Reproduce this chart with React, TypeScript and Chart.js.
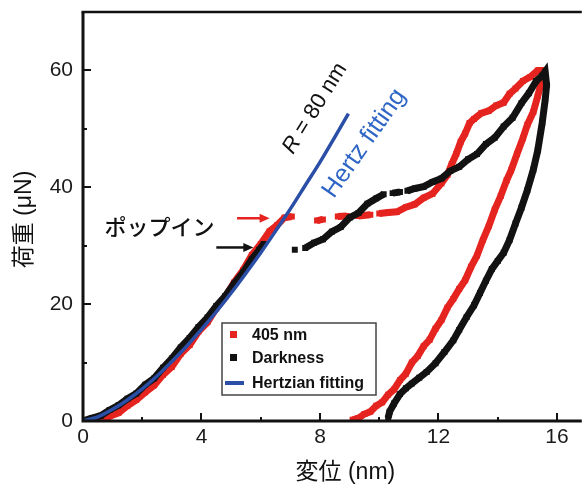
import React, { useEffect, useRef } from "react";
import { Chart, registerables } from "chart.js";

Chart.register(...registerables);

// ---- data ----
const red405X: (number)[] = [
  0.6, 0.9, 1.2, 1.5, 1.8, 2.1, 2.4, 2.7, 3.0, 3.3, 3.6, 3.9, 4.2, 4.5, 4.8, 5.1, 5.4, 5.7, 6.0, 6.3, 6.55, 6.8, 7.05, 7.05,
  7.9, 8.1, 8.1, 8.6, 8.9, 8.9, 9.3, 9.7, 9.7,
  10.0, 10.3, 10.6, 10.9, 11.2, 11.5, 11.8, 12.1, 12.3, 12.45, 12.6, 12.75, 12.9, 13.05, 13.2, 13.45, 13.7, 13.95, 14.2, 14.4, 14.6, 14.85, 15.1, 15.35, 15.55,
  15.5, 15.35, 15.2, 15.0, 14.85, 14.65, 14.45, 14.3, 14.1, 13.9, 13.7, 13.5, 13.3, 13.1, 12.9, 12.7, 12.5, 12.3, 12.1, 11.9, 11.7, 11.5, 11.3, 11.1, 10.9, 10.7, 10.5, 10.3, 10.1, 9.9, 9.7, 9.5, 9.3, 9.1,
];
const red405Y: (number | null)[] = [
  0.0, 0.8, 1.4, 2.6, 3.6, 4.9, 6.1, 7.9, 9.3, 11.5, 13.0, 15.3, 16.9, 19.3, 21.2, 23.7, 25.8, 28.4, 30.3, 32.5, 33.5, 34.8, 35.0, null,
  34.3, 34.5, null, 35.0, 35.1, null, 35.1, 35.3, null,
  35.5, 35.7, 35.8, 36.6, 37.1, 38.2, 38.9, 40.7, 42.1, 44.0, 45.7, 47.8, 49.2, 51.0, 51.7, 52.7, 53.1, 54.0, 54.5, 56.0, 56.9, 58.2, 58.9, 60.0, 60.0,
  58.5, 55.6, 52.9, 50.7, 48.4, 45.7, 42.9, 41.2, 38.5, 36.2, 33.4, 31.0, 28.3, 26.4, 24.1, 22.6, 20.9, 19.4, 17.3, 15.8, 13.9, 12.8, 11.1, 10.0, 8.1, 7.0, 5.4, 4.5, 3.2, 2.6, 1.6, 1.2, 0.5, 0.2,
];

const darkX: number[] = [
  0, 0.3, 0.6, 0.9, 1.2, 1.5, 1.8, 2.1, 2.4, 2.7, 3.0, 3.3, 3.6, 3.9, 4.2, 4.5, 4.8, 5.1, 5.4, 5.7, 5.95, 6.1, 6.1,
  7.15, 7.15,
  7.5, 7.8, 8.1, 8.4, 8.7, 9.0, 9.3, 9.6, 9.9, 10.15, 10.15,
  10.45, 10.7, 10.7,
  10.95, 11.2, 11.5, 11.8, 12.1, 12.4, 12.7, 13.0, 13.3, 13.6, 13.9, 14.2, 14.5, 14.8, 15.05, 15.3, 15.5, 15.6,
  15.65, 15.6, 15.5, 15.35, 15.2, 15.0, 14.8, 14.6, 14.4, 14.2, 14.0, 13.8, 13.6, 13.4, 13.2, 12.95, 12.7, 12.5, 12.2, 11.9, 11.6, 11.35, 11.1, 10.9, 10.7, 10.5, 10.35, 10.3,
];
const darkY: (number | null)[] = [
  0, 0.5, 0.9, 1.9, 2.7, 3.8, 4.7, 6.2, 7.3, 9.1, 10.7, 12.6, 14.2, 16.1, 17.7, 19.7, 21.4, 23.5, 25.4, 27.7, 29.3, 30.3, null,
  29.3, null,
  29.6, 30.5, 31.1, 32.4, 33.2, 34.8, 35.6, 37.2, 38.1, 38.8, null,
  39.0, 39.2, null,
  39.4, 39.8, 40.1, 40.9, 41.5, 42.8, 43.5, 44.8, 45.7, 47.4, 48.5, 50.4, 51.9, 54.4, 56.1, 58.2, 59.1, 59.8,
  57.5, 54.9, 51.0, 46.3, 43.0, 39.5, 36.5, 33.8, 31.0, 28.8, 27.4, 26.0, 24.0, 21.9, 19.8, 17.8, 15.6, 13.8, 11.8, 9.9, 8.4, 7.4, 6.4, 5.6, 4.6, 3.0, 1.6, 0.5,
];

const hertzX: number[] = [0, 0.5, 1, 1.5, 2, 2.5, 3, 3.5, 4, 4.5, 5, 5.5, 6, 6.5, 7, 7.5, 8, 8.5, 8.96];
const hertzY: number[] = [0, 0.7, 2.0, 3.6, 5.5, 7.7, 10.2, 12.8, 15.7, 18.7, 21.9, 25.3, 28.8, 32.5, 36.3, 40.3, 44.3, 48.6, 52.6];

const seriesLabels = ["Hertzian fitting", "Darkness", "405 nm"];
const xTicks = [0, 4, 8, 12, 16];
const yTicks = [0, 20, 40, 60];
const xTitle = "変位 (nm)";
const yTitle = "荷重 (μN)";
const popInLabel = "ポップイン";
const radiusLabel = ["R", " = 80 nm"];
const fitLabel = "Hertz fitting";
// arrows: [xStart, xEnd, y]
const redArrow = [5.2, 6.3, 34.7];
const blackArrow = [4.5, 5.75, 29.7];

const RED = "#e52420";
const BLACK = "#121212";
const BLUE = "#2b4fa6";
const BLUE_TEXT = "#2f66c6";
const SANS = "'Liberation Sans', Arial, sans-serif";
const CJK = "'Liberation Sans', 'Noto Sans CJK JP', sans-serif";

const pts = (xs: number[], ys: (number | null)[]) => xs.map((x, i) => ({ x, y: ys[i] }));

const overlay = {
  id: "overlay",
  afterDraw(chart: any) {
    const { ctx, chartArea: ca, scales } = chart;
    const xs = scales.x;
    const ys = scales.y;
    ctx.save();
    ctx.strokeStyle = BLACK;
    ctx.lineCap = "butt";
    // frame
    ctx.lineWidth = 3;
    ctx.beginPath();
    ctx.moveTo(ca.left, ca.top);
    ctx.lineTo(ca.left, ca.bottom);
    ctx.lineTo(ca.right + 2, ca.bottom);
    ctx.stroke();
    ctx.lineWidth = 2.5;
    ctx.beginPath();
    ctx.moveTo(ca.left - 1.5, ca.top);
    ctx.lineTo(ca.right + 2, ca.top);
    ctx.stroke();
    // inward ticks
    ctx.lineWidth = 2;
    for (let v = 0; v <= 70; v += 10) {
      const py = Math.round(ys.getPixelForValue(v));
      const len = v % 20 === 0 ? 8 : 4;
      ctx.beginPath();
      ctx.moveTo(ca.left, py);
      ctx.lineTo(ca.left + len, py);
      ctx.stroke();
    }
    for (let v = 0; v <= 16; v += 2) {
      const px = Math.round(xs.getPixelForValue(v));
      const len = v % 4 === 0 ? 8 : 4;
      ctx.beginPath();
      ctx.moveTo(px, ca.bottom);
      ctx.lineTo(px, ca.bottom - len);
      ctx.stroke();
    }
    // axis titles
    ctx.fillStyle = "#111";
    ctx.textAlign = "center";
    ctx.textBaseline = "middle";
    ctx.font = `23px ${CJK}`;
    ctx.fillText(xTitle, (ca.left + ca.right) / 2 + 14, 473);
    ctx.save();
    ctx.translate(25, (ca.top + ca.bottom) / 2 + 3);
    ctx.rotate(-Math.PI / 2);
    ctx.fillText(yTitle, 0, 0);
    ctx.restore();

    // legend box
    const lx = 222, ly = 323, lw = 154, lh = 72;
    ctx.fillStyle = "#fff";
    ctx.fillRect(lx, ly, lw, lh);
    ctx.strokeStyle = "#444";
    ctx.lineWidth = 1.5;
    ctx.strokeRect(lx, ly, lw, lh);
    const items = [
      { label: seriesLabels[2], color: RED, kind: "sq", y: ly + 12 },
      { label: seriesLabels[1], color: BLACK, kind: "sq", y: ly + 35 },
      { label: seriesLabels[0], color: BLUE, kind: "ln", y: ly + 60 },
    ];
    ctx.font = `bold 16px ${SANS}`;
    ctx.textAlign = "left";
    ctx.textBaseline = "middle";
    for (const it of items) {
      ctx.fillStyle = it.color;
      if (it.kind === "sq") {
        ctx.fillRect(lx + 8, it.y - 4, 7, 7);
      } else {
        ctx.strokeStyle = it.color;
        ctx.lineWidth = 4;
        ctx.beginPath();
        ctx.moveTo(lx + 3, it.y);
        ctx.lineTo(lx + 22, it.y);
        ctx.stroke();
      }
      ctx.fillStyle = "#111";
      ctx.fillText(it.label, lx + 30, it.y + 1);
    }

    // annotations
    const X = (v: number) => xs.getPixelForValue(v);
    const Y = (v: number) => ys.getPixelForValue(v);
    ctx.fillStyle = "#111";
    ctx.font = `500 22px 'Noto Sans CJK JP', sans-serif`;
    ctx.textAlign = "center";
    ctx.fillText(popInLabel, X(2.58), Y(33.2));
    const arrow = (a: number[], color: string) => {
      const x1 = X(a[0]), x2 = X(a[1]), y = Y(a[2]);
      ctx.strokeStyle = color;
      ctx.fillStyle = color;
      ctx.lineWidth = 2.5;
      ctx.beginPath();
      ctx.moveTo(x1, y);
      ctx.lineTo(x2 - 8, y);
      ctx.stroke();
      ctx.beginPath();
      ctx.moveTo(x2, y);
      ctx.lineTo(x2 - 10, y - 4.5);
      ctx.lineTo(x2 - 10, y + 4.5);
      ctx.closePath();
      ctx.fill();
    };
    arrow(redArrow, RED);
    arrow(blackArrow, BLACK);

    // R = 80 nm
    ctx.save();
    ctx.translate(X(7.83), Y(53.5));
    ctx.rotate((-58 * Math.PI) / 180);
    ctx.textAlign = "left";
    ctx.fillStyle = "#111";
    ctx.font = `italic 22px ${SANS}`;
    const wR = ctx.measureText(radiusLabel[0]).width;
    ctx.font = `22px ${SANS}`;
    const wRest = ctx.measureText(radiusLabel[1]).width;
    const start = -(wR + wRest) / 2;
    ctx.font = `italic 22px ${SANS}`;
    ctx.fillText(radiusLabel[0], start, 0);
    ctx.font = `22px ${SANS}`;
    ctx.fillText(radiusLabel[1], start + wR, 0);
    ctx.restore();

    // Hertz fitting
    ctx.save();
    ctx.translate(X(9.5), Y(47.5));
    ctx.rotate((-55 * Math.PI) / 180);
    ctx.textAlign = "center";
    ctx.fillStyle = BLUE_TEXT;
    ctx.font = `25px ${SANS}`;
    ctx.fillText(fitLabel, 0, 0);
    ctx.restore();

    ctx.restore();
  },
};

export default function App() {
  const ref = useRef<HTMLCanvasElement | null>(null);
  useEffect(() => {
    if (!ref.current) return;
    const chart = new Chart(ref.current, {
      type: "scatter",
      data: {
        datasets: [
          {
            label: seriesLabels[0],
            data: pts(hertzX, hertzY),
            showLine: true,
            borderColor: BLUE,
            borderWidth: 3.5,
            pointRadius: 0,
            cubicInterpolationMode: "monotone",
          },
          {
            label: seriesLabels[1],
            data: pts(darkX, darkY),
            showLine: true,
            spanGaps: false,
            borderColor: BLACK,
            backgroundColor: BLACK,
            borderWidth: 7,
            pointStyle: "rect",
            pointRadius: 4.2,
            pointBorderWidth: 0,
          },
          {
            label: seriesLabels[2],
            data: pts(red405X, red405Y),
            showLine: true,
            spanGaps: false,
            borderColor: RED,
            backgroundColor: RED,
            borderWidth: 7,
            pointStyle: "rect",
            pointRadius: 4.2,
            pointBorderWidth: 0,
          },
        ] as any,
      },
      options: {
        animation: false,
        responsive: false,
        devicePixelRatio: 1,
        layout: { padding: { top: 12, right: 0, left: 0, bottom: 0 } },
        plugins: { legend: { display: false }, tooltip: { enabled: false } },
        scales: {
          x: {
            type: "linear",
            min: 0,
            max: 16.77,
            afterFit: (s: any) => { s.height = 65; s.paddingLeft = 0; s.paddingRight = 0; },
            afterBuildTicks: (s: any) => { s.ticks = xTicks.map((v) => ({ value: v })); },
            grid: { display: false, drawTicks: false },
            border: { display: false },
            ticks: {
              padding: 4,
              color: "#1a1a1a",
              font: { family: SANS, size: 21 },
              maxRotation: 0,
              autoSkip: false,
            },
          },
          y: {
            type: "linear",
            min: 0,
            max: 70,
            afterFit: (s: any) => { s.width = 83; s.paddingTop = 0; s.paddingBottom = 0; },
            afterBuildTicks: (s: any) => { s.ticks = yTicks.map((v) => ({ value: v })); },
            grid: { display: false, drawTicks: false },
            border: { display: false },
            ticks: {
              padding: 10,
              color: "#1a1a1a",
              font: { family: SANS, size: 21 },
              autoSkip: false,
            },
          },
        },
      } as any,
      plugins: [overlay],
    });
    return () => chart.destroy();
  }, []);
  return (
    <div style={{ position: "fixed", left: 0, top: 0, width: 584, height: 486, background: "#fff", overflow: "hidden" }}>
      <canvas ref={ref} width={584} height={486} style={{ display: "block" }} />
    </div>
  );
}
